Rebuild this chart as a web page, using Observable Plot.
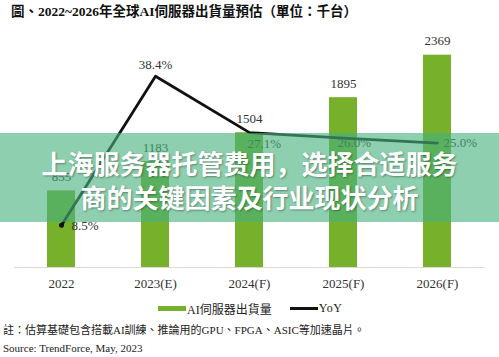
<!DOCTYPE html>
<html>
<head>
<meta charset="utf-8">
<script src="https://cdn.jsdelivr.net/npm/d3@7"></script>
<script src="https://cdn.jsdelivr.net/npm/@observablehq/plot@0.6"></script>
<style>
  html, body { margin: 0; padding: 0; background: #fff; }
  #wrap { position: relative; width: 499px; height: 357px; overflow: hidden; font-family: 'Liberation Serif', 'Noto Sans CJK TC', serif; color: #222; }
  #title { height: 24px; line-height: 24px; padding-left: 11px; font-size: 13.5px; font-weight: bold; color: #111; white-space: nowrap; }
  #legend { height: 25px; display: flex; align-items: center; font-size: 12px; color: #222; }
  .sw { display: inline-block; }
  #notes { font-size: 11px; line-height: 18px; padding-left: 3px; color: #222; white-space: nowrap; }
  #banner { position: absolute; left: 0; top: 133px; width: 499px; height: 89px; background: rgba(71,178,125,0.62);
    box-sizing: border-box; padding-top: 13px; text-align: center; color: #fff; font-family: 'Noto Sans CJK SC', sans-serif;
    font-weight: bold; font-size: 26px; line-height: 34px; text-shadow: 1px 1px 2px rgba(0,0,0,0.35); white-space: nowrap; }
</style>
</head>
<body>
<div id="wrap">
  <div id="title">圖、2022~2026年全球AI伺服器出貨量預估（單位：千台）</div>
  <div id="chart"></div>
  <div id="legend"></div>
  <div id="notes">
    <div>註：估算基礎包含搭載AI訓練、推論用的GPU、FPGA、ASIC等加速晶片。</div>
    <div>Source: TrendForce, May, 2023</div>
  </div>
  <div id="banner">上海服务器托管费用，选择合适服务<br>商的关键因素及行业现状分析</div>
</div>
<script>
const years = ["2022", "2023(E)", "2024(F)", "2025(F)", "2026(F)"];
const shipments = [855, 1183, 1504, 1895, 2369];
const yoy = [8.5, 38.4, 27.1, 26.0, 25.0];
const seriesNames = ["AI伺服器出貨量", "YoY"];
const seriesColors = ["#77b02a", "#111111"];

// axis domains: bars on the left scale, YoY on an implicit secondary scale sharing the baseline
const BAR_MAX = 2600;
const YOY_MAX = 46.8;

const data = years.map((year, i) => ({
  year,
  shipments: shipments[i],
  yoy: yoy[i],
  yoyOnBarScale: yoy[i] * BAR_MAX / YOY_MAX
}));

const fontFamily = "'Liberation Serif', 'Noto Sans CJK TC', serif";
const pct = d => d.yoy.toFixed(1) + "%";
const lbl = {x: "year", y: "yoyOnBarScale", text: pct, fontSize: 13, fill: "#333"};

const chart = Plot.plot({
  width: 499,
  height: 272,
  marginTop: 10,
  marginBottom: 29,
  marginLeft: 14,
  marginRight: 14,
  style: {fontFamily, fontSize: "13px", background: "transparent", color: "#333"},
  x: {domain: years, paddingInner: 0.7, paddingOuter: 0.35, label: null},
  y: {domain: [0, BAR_MAX], axis: null},
  marks: [
    Plot.barY(data, {x: "year", y: "shipments", fill: seriesColors[0]}),
    Plot.ruleY([0], {stroke: "#d9d9d9", strokeWidth: 1}),
    Plot.axisX({tickSize: 0, tickPadding: 11, fontSize: 13, fill: "#333"}),
    Plot.text(data, {x: "year", y: "shipments", text: d => String(d.shipments), dy: -14, fontSize: 13, fill: "#333"}),
    Plot.line(data, {x: "year", y: "yoyOnBarScale", stroke: seriesColors[1], strokeWidth: 2.8}),
    Plot.dot(data.slice(0, 1), {x: "year", y: "yoyOnBarScale", r: 2.5, fill: seriesColors[1]}),
    Plot.text(data.filter(d => d.year === "2022"), {...lbl, textAnchor: "start", dx: 10, dy: 1}),
    Plot.text(data.filter(d => d.year === "2023(E)"), {...lbl, dy: -11}),
    Plot.text(data.filter(d => d.year === "2024(F)"), {...lbl, textAnchor: "start", dx: -2, dy: 11}),
    Plot.text(data.filter(d => d.year === "2025(F)"), {...lbl, textAnchor: "start", dx: -6, dy: 5}),
    Plot.text(data.filter(d => d.year === "2026(F)"), {...lbl, textAnchor: "start", dx: 6, dy: 0})
  ]
});
document.getElementById("chart").appendChild(chart);

// legend
const legend = document.getElementById("legend");
legend.innerHTML =
  `<span style="display:inline-block;width:158px"></span>` +
  `<span class="sw" style="width:28px;height:5px;background:${seriesColors[0]}"></span>` +
  `<span style="margin-left:1px">${seriesNames[0]}</span>` +
  `<span style="display:inline-block;width:18px"></span>` +
  `<span class="sw" style="width:28px;height:3px;background:${seriesColors[1]}"></span>` +
  `<span style="margin-left:1px;letter-spacing:0.5px">${seriesNames[1]}</span>`;
</script>
</body>
</html>
